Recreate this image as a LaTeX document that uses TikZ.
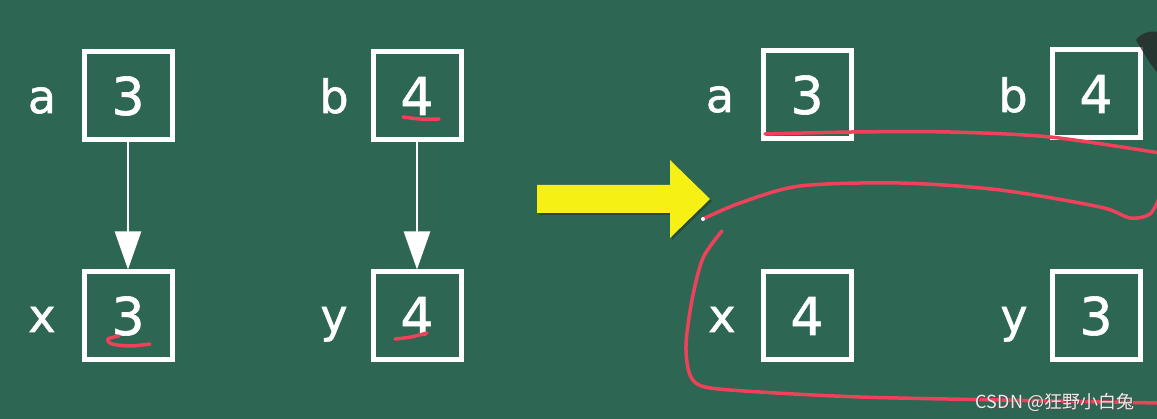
\documentclass[tikz,border=0pt]{standalone}
\usepackage{fontspec}
\setmainfont{DejaVu Sans}[FakeBold=1.2]
\newfontfamily\cjk{Noto Sans CJK SC}
\usetikzlibrary{arrows.meta}
\definecolor{board}{RGB}{46,102,84}
\definecolor{chalkred}{RGB}{238,66,90}
\definecolor{arrowyellow}{RGB}{246,240,20}
\tikzset{
  valbox/.style={draw=white, line width=5pt, minimum width=88pt, minimum height=88pt,
    inner sep=0pt, text=white, font=\fontsize{52}{60}\selectfont},
  varlbl/.style={text=white, anchor=base, inner sep=0pt, font=\fontsize{46}{54}\selectfont},
  copyarrow/.style={draw=white, line width=2.5pt,
    -{Triangle[width=26pt,length=38pt,fill=white]}},
  redink/.style={draw=chalkred, line width=3.5pt, line cap=round, line join=round},
  wm/.style={inner sep=0pt, anchor=base, font=\cjk\fontsize{18}{22}\selectfont}
}
\begin{document}
\begin{tikzpicture}[x=1pt,y=-1pt]
\fill[board] (0,0) rectangle (1157,419);
\useasboundingbox (0,0) rectangle (1157,419);

% left side: before
\node[valbox] (a1) at (128,96) {3};
\node[valbox] (x1) at (128,316) {3};
\node[valbox] (b1) at (417,96) {4};
\node[valbox] (y1) at (417,316) {4};
\node[varlbl] (la1) at (42,113) {a};
\node[varlbl] (lx1) at (42,332) {x};
\node[varlbl] (lb1) at (334,113) {b};
\node[varlbl] (ly1) at (334,332) {y};
\draw[copyarrow] (a1) -- (x1);
\draw[copyarrow] (b1) -- (y1);

% red marks on left
\draw[redink] plot[smooth] coordinates {(403,117) (420,119) (439,119)};
\draw[redink] plot[smooth] coordinates {(119,336) (108,339) (112,344) (130,346) (150,344)};
\draw[redink] plot[smooth] coordinates {(395,339) (411,337) (427,333)};

% yellow arrow
\fill[black,opacity=0.25] (539,187) -- (672,187) -- (672,162) -- (712,201) -- (672,240) -- (672,215) -- (539,215) -- cycle;
\fill[arrowyellow] (537,185) -- (670,185) -- (670,160) -- (710,199) -- (670,238) -- (670,213) -- (537,213) -- cycle;

% right side: after
\node[valbox] (a2) at (807,95) {3};
\node[valbox] (b2) at (1096,94) {4};
\node[valbox] (x2) at (807,316) {4};
\node[valbox] (y2) at (1096,316) {3};
\node[varlbl] (la2) at (720,112) {a};
\node[varlbl] (lb2) at (1013,112) {b};
\node[varlbl] (lx2) at (722,332) {x};
\node[varlbl] (ly2) at (1014,332) {y};

% red loops on right
\draw[redink] plot[smooth] coordinates {(765,134) (852,132) (950,132) (1050,137) (1160,153)};
\draw[redink] plot[smooth] coordinates {(1160,196) (1150,214) (1130,218) (1100,207) (1000,190) (900,183) (800,186) (740,203) (703,219)};
\fill[white] (703,219) circle (2);
\draw[redink] plot[smooth] coordinates {(722,231) (703,258) (692,300) (686,345) (690,375) (705,387) (760,392) (860,397) (1000,400) (1160,403)};

% dark smudge top right
\fill[black!85,opacity=0.75] (1136,40) .. controls (1140,34) and (1150,30) .. (1157,32) -- (1157,72) .. controls (1150,64) and (1143,52) .. cycle;

% watermark
\node[wm, text=black!70] (wms) at (1056,410) {CSDN @狂野小白兔};
\node[wm, text=white!85!gray] (wmt) at (1055,409) {CSDN @狂野小白兔};
\end{tikzpicture}
\end{document}
